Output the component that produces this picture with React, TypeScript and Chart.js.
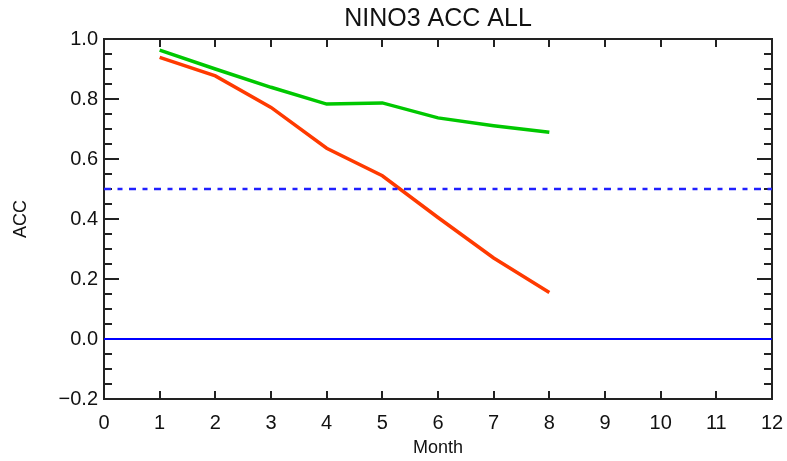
import React, { useEffect, useRef } from 'react';
import { Chart, registerables } from 'chart.js';

Chart.register(...registerables);

const months = [1, 2, 3, 4, 5, 6, 7, 8];
const accGreen = [0.963, 0.9, 0.839, 0.783, 0.787, 0.737, 0.711, 0.689];
const accRed = [0.939, 0.877, 0.772, 0.636, 0.544, 0.405, 0.27, 0.155];
const xRange = [0, 12];
const yRange = [-0.2, 1.0];
const refThreshold = 0.5;
const refZero = 0.0;
const xStep = 1;
const yMajorStep = 0.2;
const yMinorStep = 0.05;
const titleText = 'NINO3 ACC ALL';
const xTitle = 'Month';
const yTitle = 'ACC';

const FONT = "'Liberation Sans', Arial, sans-serif";

const framePlugin = {
  id: 'idlFrame',
  beforeDatasetsDraw(chart: any) {
    const { ctx, chartArea: a, scales } = chart;
    const xs = scales.x;
    const ys = scales.y;
    ctx.save();
    ctx.strokeStyle = '#222';
    ctx.lineWidth = 2;
    ctx.strokeRect(a.left, a.top, a.right - a.left, a.bottom - a.top);
    ctx.beginPath();
    for (let v = xRange[0] + xStep; v < xRange[1]; v += xStep) {
      const px = Math.round(xs.getPixelForValue(v));
      ctx.moveTo(px, a.bottom);
      ctx.lineTo(px, a.bottom - 8);
      ctx.moveTo(px, a.top);
      ctx.lineTo(px, a.top + 8);
    }
    const n = Math.round((yRange[1] - yRange[0]) / yMinorStep);
    const perMajor = Math.round(yMajorStep / yMinorStep);
    for (let i = 1; i < n; i++) {
      const v = yRange[0] + i * yMinorStep;
      const len = i % perMajor === 0 ? 15 : 8;
      const py = Math.round(ys.getPixelForValue(v));
      ctx.moveTo(a.left, py);
      ctx.lineTo(a.left + len, py);
      ctx.moveTo(a.right, py);
      ctx.lineTo(a.right - len, py);
    }
    ctx.stroke();
    ctx.restore();
  },
};

export default function App() {
  const ref = useRef<HTMLCanvasElement>(null);

  useEffect(() => {
    const canvas = ref.current!;
    const chart = new Chart(canvas, {
      type: 'line',
      data: {
        datasets: [
          {
            label: 'zero',
            data: xRange.map((x) => ({ x, y: refZero })),
            borderColor: '#0000ff',
            borderWidth: 2,
            pointRadius: 0,
          },
          {
            label: 'threshold',
            data: xRange.map((x) => ({ x, y: refThreshold })),
            borderColor: '#2020ff',
            borderWidth: 2.5,
            borderDash: [7, 6.5, 5, 6.5],
            pointRadius: 0,
          },
          {
            label: 'green',
            data: months.map((m, i) => ({ x: m, y: accGreen[i] })),
            borderColor: '#00c800',
            borderWidth: 3.5,
            pointRadius: 0,
            tension: 0,
          },
          {
            label: 'red',
            data: months.map((m, i) => ({ x: m, y: accRed[i] })),
            borderColor: '#ff3a00',
            borderWidth: 3.5,
            pointRadius: 0,
            tension: 0,
          },
        ],
      },
      options: {
        responsive: false,
        animation: false,
        devicePixelRatio: 1,
        layout: { padding: { left: 0, right: 15, top: 0, bottom: 0 } },
        plugins: {
          legend: { display: false },
          tooltip: { enabled: false },
          title: {
            display: true,
            text: titleText,
            fullSize: false,
            color: '#111',
            font: { family: FONT, size: 25, weight: 'normal', lineHeight: 1.2 },
            padding: { top: 4, bottom: 5 },
          },
        },
        scales: {
          x: {
            type: 'linear',
            min: xRange[0],
            max: xRange[1],
            grid: { display: false, drawTicks: false },
            border: { display: false },
            ticks: {
              stepSize: xStep,
              padding: 12,
              color: '#111',
              font: { family: FONT, size: 20 },
              maxRotation: 0,
            },
            title: {
              display: true,
              text: xTitle,
              color: '#111',
              font: { family: FONT, size: 18 },
              padding: { top: 0, bottom: 2 },
            },
            afterFit: (s: any) => {
              s.height = 62;
              s.paddingLeft = 0;
              s.paddingRight = 0;
            },
          },
          y: {
            type: 'linear',
            min: yRange[0],
            max: yRange[1],
            grid: { display: false, drawTicks: false },
            border: { display: false },
            ticks: {
              stepSize: yMajorStep,
              padding: 6,
              color: '#111',
              font: { family: FONT, size: 20 },
              callback: (v: any) => {
                const num = Number(v);
                const s = Math.abs(num).toFixed(1);
                return num < -1e-9 ? '\u2212' + s : s;
              },
            },
            title: {
              display: true,
              text: yTitle,
              color: '#111',
              font: { family: FONT, size: 18 },
              padding: { top: 10, bottom: 0 },
            },
            afterFit: (s: any) => {
              s.width = 104;
              s.paddingTop = 0;
              s.paddingBottom = 0;
            },
          },
        },
      },
      plugins: [framePlugin],
    });
    return () => chart.destroy();
  }, []);

  return (
    <div style={{ position: 'absolute', left: 0, top: 0, width: 787, height: 461, background: '#fff' }}>
      <canvas ref={ref} width={787} height={461} style={{ display: 'block' }} />
    </div>
  );
}
